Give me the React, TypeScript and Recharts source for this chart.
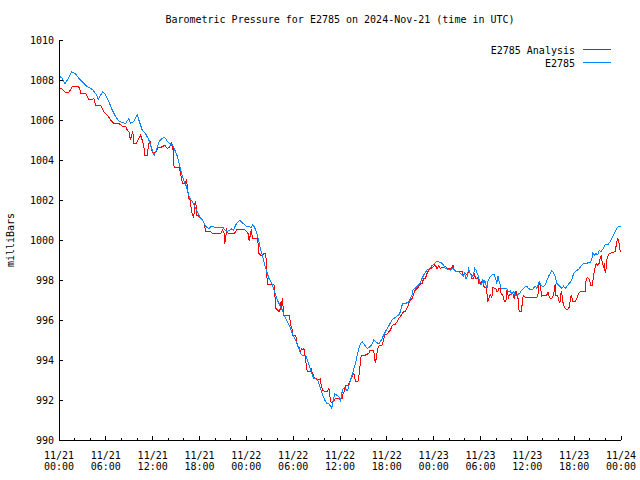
import React from 'react';
import { LineChart, Line, XAxis, YAxis } from 'recharts';

const chartTitle = 'Barometric Pressure for E2785 on 2024-Nov-21 (time in UTC)';
const yAxisTitle = 'milliBars';
const seriesNames = ['E2785 Analysis', 'E2785'];
const seriesColors = ['#ff0000', '#0a84ff'];

const xTickDates = ['11/21', '11/21', '11/21', '11/21', '11/22', '11/22', '11/22', '11/22', '11/23', '11/23', '11/23', '11/23', '11/24'];
const xTickTimes = ['00:00', '06:00', '12:00', '18:00', '00:00', '06:00', '12:00', '18:00', '00:00', '06:00', '12:00', '18:00', '00:00'];
const xTicksHours = [0, 2, 4, 6, 8, 10, 12, 14, 16, 18, 20, 22, 24, 26, 28, 30, 32, 34, 36, 38, 40, 42, 44, 46, 48, 50, 52, 54, 56, 58, 60, 62, 64, 66, 68, 70, 72];
const yTicks = [990, 992, 994, 996, 998, 1000, 1002, 1004, 1006, 1008, 1010];

// E2785 (observed) — hours since 11/21 00:00 UTC
const obsHours = [0, 0.43, 0.77, 1.07, 1.62, 2.13, 2.56, 2.98, 3.62, 4.26, 4.69, 5.03, 5.33, 5.63, 5.97, 6.39, 6.82, 7.25, 7.67, 8.1, 8.53, 8.95, 9.16, 9.59, 10.02, 10.23, 10.66, 11.08, 11.51, 11.94, 12.2, 12.41, 12.83, 13.05, 13.47, 13.69, 13.9, 14.11, 14.54, 14.84, 15.18, 15.39, 15.61, 15.82, 16.03, 16.25, 16.46, 16.67, 16.88, 17.1, 17.31, 17.52, 17.74, 17.95, 18.16, 18.38, 18.59, 18.8, 19.23, 19.44, 20.3, 21.06, 21.23, 21.57, 21.91, 22.09, 22.34, 22.64, 22.94, 23.19, 23.49, 23.79, 24.1, 24.35, 24.6, 24.77, 24.99, 25.2, 25.41, 25.62, 25.84, 26.05, 26.26, 26.48, 26.69, 26.9, 27.12, 27.33, 27.54, 27.76, 27.97, 28.18, 28.4, 28.61, 28.82, 29.03, 29.25, 29.46, 29.67, 29.89, 30.1, 30.31, 30.53, 30.74, 30.95, 31.17, 31.59, 31.81, 32.02, 32.23, 32.45, 32.66, 33.08, 33.3, 33.51, 33.72, 33.94, 34.15, 34.36, 34.58, 34.79, 34.92, 35.13, 35.3, 35.56, 35.85, 36.07, 36.15, 36.28, 36.41, 36.58, 36.83, 37.0, 37.22, 37.35, 37.56, 37.77, 37.99, 38.2, 38.41, 38.63, 38.84, 39.05, 39.27, 39.48, 39.69, 39.9, 40.12, 40.33, 40.54, 40.76, 40.97, 41.18, 41.4, 41.61, 41.82, 42.04, 42.25, 42.46, 42.67, 42.89, 43.1, 43.31, 43.53, 43.74, 43.87, 44.08, 44.38, 44.68, 44.81, 45.02, 45.23, 45.36, 45.66, 45.87, 46.09, 46.3, 46.51, 46.73, 46.94, 47.15, 47.37, 47.58, 47.79, 48.0, 48.22, 48.43, 48.86, 49.07, 49.28, 49.5, 49.71, 49.92, 50.14, 50.35, 50.56, 50.78, 50.99, 51.2, 51.41, 51.63, 51.84, 51.97, 52.14, 52.27, 52.48, 52.69, 52.91, 53.12, 53.25, 53.42, 53.67, 53.84, 53.97, 54.19, 54.31, 54.4, 54.53, 54.7, 54.82, 54.95, 55.12, 55.38, 55.55, 55.8, 55.97, 56.1, 56.23, 56.4, 56.66, 57.17, 57.38, 57.6, 57.81, 58.02, 58.23, 58.45, 58.66, 58.88, 59.09, 59.3, 59.52, 59.73, 59.94, 60.15, 60.37, 60.58, 60.79, 61.01, 61.22, 61.43, 61.52, 61.65, 61.86, 62.07, 62.29, 62.5, 62.71, 62.93, 63.14, 63.35, 63.57, 63.78, 63.99, 64.2, 64.42, 64.63, 64.84, 65.06, 65.27, 65.48, 65.7, 65.91, 66.12, 66.34, 66.55, 66.76, 66.98, 67.19, 67.61, 67.83, 68.04, 68.25, 68.38, 68.6, 68.77, 69.02, 69.19, 69.45, 69.62, 69.75, 69.96, 70.17, 70.39, 70.6, 70.81, 71.02, 71.24, 71.45, 71.66, 72.0];
const obsValues = [1008.2, 1008.08, 1007.8, 1008.0, 1008.42, 1008.3, 1008.08, 1007.92, 1007.67, 1007.53, 1007.33, 1007.05, 1007.25, 1007.42, 1007.25, 1006.92, 1006.5, 1006.17, 1005.95, 1005.87, 1005.83, 1006.08, 1005.83, 1005.92, 1006.25, 1006.0, 1005.5, 1005.33, 1005.0, 1004.5, 1004.25, 1004.42, 1004.92, 1005.03, 1005.13, 1005.08, 1004.92, 1004.83, 1004.75, 1004.5, 1004.17, 1003.83, 1003.5, 1003.17, 1002.92, 1002.75, 1002.5, 1002.17, 1002.0, 1001.92, 1001.75, 1001.58, 1001.42, 1001.25, 1001.08, 1001.0, 1000.83, 1000.67, 1000.58, 1000.67, 1000.63, 1000.63, 1000.5, 1000.42, 1000.5, 1000.55, 1000.5, 1000.75, 1000.92, 1000.97, 1000.85, 1000.78, 1000.65, 1000.68, 1000.62, 1000.75, 1000.67, 1000.5, 1000.25, 999.92, 999.5, 999.25, 998.92, 998.58, 998.33, 998.08, 997.92, 997.75, 997.5, 997.25, 997.0, 996.83, 996.63, 996.5, 996.25, 996.08, 995.92, 995.75, 995.58, 995.33, 995.17, 995.0, 994.75, 994.58, 994.33, 994.25, 994.25, 994.0, 993.75, 993.5, 993.25, 993.08, 993.03, 992.83, 992.55, 992.33, 992.1, 991.92, 991.8, 991.82, 991.68, 991.58, 991.92, 992.33, 992.25, 992.17, 991.92, 992.17, 992.42, 992.58, 992.63, 992.5, 992.5, 992.83, 993.0, 993.25, 993.58, 993.83, 994.25, 994.58, 994.83, 994.92, 994.8, 994.7, 994.58, 994.63, 994.67, 994.83, 995.0, 994.92, 994.87, 994.8, 994.92, 995.08, 995.25, 995.42, 995.58, 995.7, 995.87, 996.0, 996.08, 996.13, 996.2, 996.25, 996.42, 996.67, 996.83, 996.83, 996.87, 996.92, 997.08, 997.25, 997.53, 997.6, 997.67, 997.75, 997.87, 998.08, 998.25, 998.38, 998.5, 998.55, 998.62, 998.72, 998.78, 998.88, 998.92, 998.88, 998.83, 998.75, 998.58, 998.55, 998.55, 998.5, 998.58, 998.55, 998.45, 998.45, 998.42, 998.33, 998.28, 998.17, 998.33, 998.08, 998.12, 998.55, 998.33, 998.17, 998.25, 998.58, 998.5, 998.25, 998.0, 997.75, 997.83, 998.05, 997.75, 998.0, 997.78, 997.58, 997.92, 998.08, 998.22, 998.28, 998.25, 998.0, 997.83, 998.22, 997.92, 997.58, 997.58, 997.55, 997.42, 997.45, 997.28, 997.42, 997.25, 997.2, 997.3, 997.37, 997.5, 997.58, 997.67, 997.7, 997.58, 997.53, 997.5, 997.58, 997.7, 997.58, 997.8, 997.92, 997.83, 997.7, 997.67, 997.75, 997.97, 998.17, 998.33, 998.47, 998.37, 998.17, 997.83, 997.75, 997.67, 997.58, 997.7, 997.58, 997.67, 997.8, 997.87, 998.03, 998.3, 998.42, 998.47, 998.53, 998.63, 998.75, 998.83, 998.83, 998.87, 998.87, 999.03, 999.33, 999.25, 999.33, 999.25, 999.47, 999.42, 999.53, 999.58, 999.75, 999.8, 999.8, 999.92, 1000.08, 1000.25, 1000.42, 1000.58, 1000.67, 1000.67];

// E2785 Analysis
const anaHours = [0, 0.43, 0.85, 1.28, 1.7, 2.34, 2.64, 2.77, 3.41, 3.62, 3.84, 4.26, 4.48, 4.69, 5.33, 5.54, 5.75, 6.18, 6.61, 7.03, 7.67, 8.1, 8.53, 8.74, 8.95, 9.16, 9.29, 9.46, 9.59, 9.89, 10.23, 10.44, 10.66, 10.87, 11.0, 11.3, 11.51, 11.64, 11.85, 12.06, 12.41, 12.71, 13.05, 13.39, 13.56, 13.69, 13.9, 14.11, 14.33, 14.41, 14.54, 14.63, 14.67, 14.75, 15.39, 15.52, 15.61, 15.73, 15.82, 16.12, 16.25, 16.37, 16.46, 16.59, 16.67, 16.76, 16.88, 16.97, 17.1, 17.23, 17.31, 17.4, 17.52, 17.61, 17.65, 17.82, 17.95, 18.16, 18.38, 18.59, 18.72, 18.8, 19.44, 19.66, 20.72, 20.93, 21.15, 21.23, 21.36, 21.49, 21.66, 22.43, 22.77, 23.71, 24.05, 24.22, 24.35, 24.47, 24.64, 24.77, 25.41, 25.5, 25.62, 25.84, 26.05, 26.26, 26.48, 26.56, 26.69, 27.54, 27.63, 27.76, 27.97, 28.18, 28.31, 28.4, 28.48, 28.61, 28.74, 28.82, 29.46, 29.59, 29.67, 29.85, 29.89, 30.31, 30.44, 30.53, 30.61, 30.74, 30.87, 30.95, 31.04, 31.17, 31.38, 31.47, 31.59, 31.68, 31.81, 32.23, 32.32, 32.45, 32.57, 32.74, 33.3, 33.45, 33.6, 33.77, 34.02, 34.36, 34.58, 34.7, 34.87, 35.13, 35.3, 35.43, 36.28, 36.41, 36.58, 36.71, 37.0, 37.13, 37.26, 37.43, 37.6, 37.77, 37.9, 37.99, 38.28, 38.41, 38.54, 38.63, 38.75, 39.27, 39.69, 39.82, 40.33, 40.42, 40.54, 40.67, 40.84, 40.97, 41.4, 41.61, 41.69, 42.04, 42.25, 42.46, 42.67, 42.89, 43.1, 43.31, 43.53, 43.74, 43.96, 44.17, 44.38, 44.51, 44.68, 44.81, 45.02, 45.23, 45.36, 45.53, 45.66, 45.87, 46.09, 46.17, 46.51, 46.73, 46.94, 47.15, 47.37, 47.58, 47.79, 48.0, 48.13, 48.3, 48.43, 48.64, 48.73, 48.86, 49.07, 49.5, 49.71, 49.92, 50.14, 50.35, 50.48, 50.56, 50.69, 50.86, 51.63, 51.84, 52.06, 52.27, 52.48, 52.61, 52.69, 52.82, 52.91, 53.12, 53.25, 53.42, 53.54, 53.67, 53.76, 53.97, 54.19, 54.31, 54.4, 54.7, 54.82, 54.95, 55.12, 55.25, 55.46, 55.55, 55.97, 56.1, 56.23, 56.32, 56.53, 56.66, 56.83, 56.96, 57.08, 57.25, 57.38, 57.6, 57.72, 57.94, 58.11, 58.23, 58.36, 58.45, 58.58, 58.66, 58.79, 58.88, 58.96, 59.22, 59.3, 59.39, 59.52, 59.64, 59.73, 61.22, 61.35, 61.43, 61.52, 61.65, 61.77, 61.86, 62.5, 62.63, 62.71, 62.8, 62.93, 63.14, 63.35, 63.48, 63.57, 63.65, 63.78, 63.91, 63.99, 64.12, 64.2, 64.33, 64.42, 64.5, 64.63, 64.84, 65.06, 65.18, 65.36, 65.48, 65.61, 65.7, 65.78, 66.12, 66.34, 66.46, 66.55, 66.76, 67.4, 67.49, 67.61, 67.74, 67.91, 68.04, 68.17, 68.34, 68.47, 68.6, 68.77, 68.89, 69.02, 69.19, 69.32, 69.45, 69.53, 69.62, 69.75, 69.87, 69.96, 70.05, 70.17, 70.3, 70.47, 70.6, 71.24, 71.36, 71.45, 71.53, 71.66, 71.79, 71.88, 72.0];
const anaValues = [1007.63, 1007.53, 1007.38, 1007.38, 1007.67, 1007.67, 1007.63, 1007.33, 1007.33, 1007.17, 1007.03, 1007.03, 1007.08, 1006.75, 1006.75, 1006.58, 1006.42, 1006.25, 1006.0, 1005.83, 1005.83, 1005.7, 1005.7, 1005.5, 1005.42, 1005.0, 1005.25, 1005.42, 1004.83, 1004.83, 1005.08, 1005.25, 1005.0, 1004.67, 1004.25, 1004.25, 1004.83, 1005.0, 1004.5, 1004.35, 1004.4, 1004.63, 1004.63, 1004.7, 1004.75, 1004.67, 1004.58, 1004.63, 1004.75, 1004.83, 1004.58, 1004.67, 1004.0, 1003.63, 1003.63, 1003.42, 1003.25, 1003.0, 1002.83, 1002.83, 1002.92, 1003.0, 1002.42, 1002.25, 1002.0, 1002.08, 1001.75, 1001.5, 1001.25, 1001.17, 1001.33, 1001.83, 1001.92, 1001.5, 1001.25, 1001.25, 1001.13, 1001.13, 1001.0, 1000.83, 1000.58, 1000.42, 1000.42, 1000.33, 1000.33, 1000.5, 1000.33, 999.8, 1000.17, 1000.5, 1000.33, 1000.3, 1000.53, 1000.53, 1000.42, 1000.33, 999.97, 1000.17, 1000.53, 1000.08, 1000.08, 999.83, 999.33, 999.25, 999.25, 999.33, 999.33, 998.83, 997.78, 997.75, 997.42, 996.58, 996.5, 996.42, 996.5, 996.92, 996.58, 997.08, 996.5, 996.25, 996.25, 996.0, 995.75, 995.58, 995.25, 995.25, 995.0, 994.75, 994.67, 994.67, 994.5, 994.42, 994.58, 994.5, 994.58, 994.42, 994.0, 993.75, 993.42, 993.42, 993.58, 993.33, 993.25, 993.08, 993.03, 993.05, 992.75, 992.5, 992.42, 992.42, 992.58, 992.17, 991.87, 991.92, 992.0, 992.08, 992.08, 992.33, 992.42, 992.75, 992.75, 992.83, 992.92, 993.08, 993.17, 993.33, 993.08, 992.92, 992.92, 993.17, 993.58, 994.0, 994.25, 994.25, 994.33, 994.47, 994.47, 994.08, 993.83, 994.17, 994.58, 994.7, 994.75, 995.0, 995.25, 995.3, 995.42, 995.5, 995.7, 995.8, 995.8, 995.92, 996.08, 996.17, 996.33, 996.42, 996.42, 996.53, 996.67, 996.83, 997.0, 997.08, 997.2, 997.42, 997.5, 997.58, 997.67, 997.78, 997.83, 998.08, 998.08, 998.33, 998.5, 998.55, 998.62, 998.67, 998.75, 998.67, 998.58, 998.72, 998.62, 998.58, 998.62, 998.67, 998.58, 998.55, 998.58, 998.62, 998.72, 998.58, 998.45, 998.42, 998.42, 998.25, 998.33, 998.25, 998.42, 998.45, 998.25, 998.28, 998.08, 998.08, 998.28, 998.05, 998.08, 998.12, 997.83, 997.83, 997.92, 998.0, 997.67, 997.62, 997.33, 996.92, 997.12, 997.28, 997.12, 997.62, 997.58, 997.42, 997.42, 997.58, 997.58, 997.28, 997.28, 997.05, 996.92, 996.92, 997.5, 997.12, 997.28, 997.28, 997.38, 997.17, 997.08, 997.4, 997.42, 997.25, 997.17, 996.67, 996.42, 996.42, 996.63, 997.08, 997.2, 997.17, 997.13, 997.13, 997.25, 997.42, 997.87, 997.75, 997.42, 997.2, 997.25, 997.37, 997.37, 997.13, 997.08, 997.08, 997.25, 997.5, 997.8, 997.25, 997.25, 997.17, 997.0, 996.87, 996.92, 997.42, 997.37, 997.03, 996.75, 996.58, 996.53, 996.53, 996.63, 996.92, 997.25, 997.17, 996.92, 996.92, 997.08, 997.17, 997.33, 997.42, 997.42, 997.92, 998.08, 998.13, 998.03, 997.87, 997.7, 997.75, 998.17, 998.5, 998.75, 998.83, 998.75, 998.83, 999.08, 999.2, 999.0, 998.83, 998.67, 998.83, 998.42, 998.37, 999.0, 999.17, 999.3, 999.33, 999.42, 999.67, 999.83, 1000.08, 1000.0, 999.75, 999.5, 999.42];

const obsData = obsHours.map((h, i) => ({ h, p: obsValues[i] }));
const anaData = anaHours.map((h, i) => ({ h, p: anaValues[i] }));

const FONT = '"DejaVu Sans Mono", "Liberation Mono", monospace';
const W = 640;
const H = 480;
const PLOT_LEFT = 59;
const PLOT_RIGHT = 621;
const PLOT_TOP = 40;

const BottomTick = (props: any) => {
  const { x, y, payload } = props;
  const v = payload.value as number;
  const major = v % 6 === 0;
  const idx = v / 6;
  return (
    <g>
      <line x1={x} x2={x} y1={y} y2={y - (major ? 4 : 2)} stroke="#000" />
      {major && (
        <text x={x} y={y + 18.5} textAnchor="middle" fontFamily={FONT} fontSize={10} fill="#000" style={{ shapeRendering: 'auto' }}>
          {xTickDates[idx]}
        </text>
      )}
      {major && (
        <text x={x} y={y + 30} textAnchor="middle" fontFamily={FONT} fontSize={10} fill="#000">
          {xTickTimes[idx]}
        </text>
      )}
    </g>
  );
};

const TopTick = (props: any) => {
  const { x, y, payload } = props;
  const major = (payload.value as number) % 6 === 0;
  return <line x1={x} x2={x} y1={y} y2={y + (major ? 4 : 2)} stroke="#000" />;
};

const LeftTick = (props: any) => {
  const { x, y, payload } = props;
  return (
    <g>
      <line x1={x} x2={x + 4} y1={y} y2={y} stroke="#000" />
      <text x={x - 5} y={y + 3.5} textAnchor="end" fontFamily={FONT} fontSize={10} fill="#000">
        {payload.value}
      </text>
    </g>
  );
};

const RightTick = (props: any) => {
  const { x, y } = props;
  return <line x1={x} x2={x - 4} y1={y} y2={y} stroke="#000" />;
};

export default function App() {
  return (
    <div style={{ position: 'absolute', left: 0, top: 0, width: W, height: H, background: '#fff' }}>
      <LineChart
        width={W}
        height={H}
        margin={{ top: PLOT_TOP, right: W - PLOT_RIGHT, bottom: 0, left: 0 }}
        style={{ shapeRendering: 'crispEdges' }}
      >
        <XAxis
          xAxisId="b"
          dataKey="h"
          type="number"
          domain={[0, 72]}
          ticks={xTicksHours}
          interval={0}
          allowDataOverflow
          height={40}
          tickSize={0}
          tickMargin={0}
          tickLine={false}
          axisLine={{ stroke: '#000' }}
          tick={<BottomTick />}
        />
        <XAxis
          xAxisId="t"
          orientation="top"
          dataKey="h"
          type="number"
          domain={[0, 72]}
          ticks={xTicksHours}
          interval={0}
          allowDataOverflow
          height={0}
          tickSize={0}
          tickMargin={0}
          tickLine={false}
          axisLine={{ stroke: '#000' }}
          tick={<TopTick />}
        />
        <YAxis
          yAxisId="l"
          type="number"
          domain={[990, 1010]}
          ticks={yTicks}
          interval={0}
          allowDataOverflow
          width={PLOT_LEFT}
          tickSize={0}
          tickMargin={0}
          tickLine={false}
          axisLine={{ stroke: '#000' }}
          tick={<LeftTick />}
        />
        <YAxis
          yAxisId="r"
          orientation="right"
          type="number"
          domain={[990, 1010]}
          ticks={yTicks}
          interval={0}
          allowDataOverflow
          width={0}
          tickSize={0}
          tickMargin={0}
          tickLine={false}
          axisLine={{ stroke: '#000' }}
          tick={<RightTick />}
        />
        <Line
          xAxisId="b"
          yAxisId="l"
          data={anaData}
          dataKey="p"
          type="linear"
          stroke={seriesColors[0]}
          strokeWidth={1}
          dot={false}
          activeDot={false}
          isAnimationActive={false}
          name={seriesNames[0]}
        />
        <Line
          xAxisId="b"
          yAxisId="l"
          data={obsData}
          dataKey="p"
          type="linear"
          stroke={seriesColors[1]}
          strokeWidth={1}
          dot={false}
          activeDot={false}
          isAnimationActive={false}
          name={seriesNames[1]}
        />
      </LineChart>
      <svg
        width={W}
        height={H}
        style={{ position: 'absolute', left: 0, top: 0, pointerEvents: 'none' }}
      >
        <text x={(PLOT_LEFT + PLOT_RIGHT) / 2} y={23} textAnchor="middle" fontFamily={FONT} fontSize={10} fill="#000">
          {chartTitle}
        </text>
        <text
          x={14}
          y={240}
          textAnchor="middle"
          fontFamily={FONT}
          fontSize={10}
          fill="#000"
          transform="rotate(-90 14 240)"
        >
          {yAxisTitle}
        </text>
        <text x={575} y={53.5} textAnchor="end" fontFamily={FONT} fontSize={10} fill="#000">
          {seriesNames[0]}
        </text>
        <line x1={583} x2={611} y1={49.5} y2={49.5} stroke={seriesColors[0]} strokeWidth={1} />
        <text x={575} y={66.5} textAnchor="end" fontFamily={FONT} fontSize={10} fill="#000">
          {seriesNames[1]}
        </text>
        <line x1={583} x2={611} y1={62.5} y2={62.5} stroke={seriesColors[1]} strokeWidth={1} />
      </svg>
    </div>
  );
}
